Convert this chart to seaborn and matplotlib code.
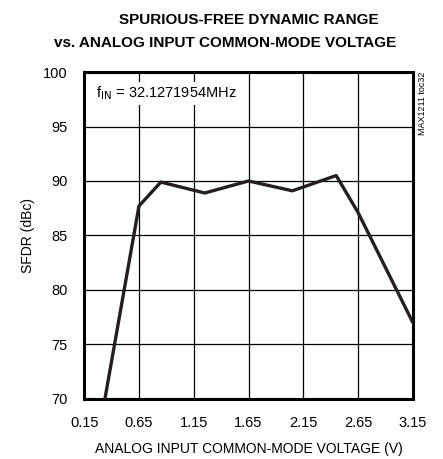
import numpy as np
import pandas as pd
import matplotlib
matplotlib.use('Agg')
import matplotlib.pyplot as plt
import seaborn as sns

# data
vcm = [0.25, 0.65, 0.85, 1.25, 1.65, 2.05, 2.45, 2.65, 3.15]
sfdr = [64.9, 87.7, 89.9, 88.9, 90.0, 89.1, 90.5, 87.1, 77.0]
x_ticks = [0.15, 0.65, 1.15, 1.65, 2.15, 2.65, 3.15]
y_ticks = [70, 75, 80, 85, 90, 95, 100]

df = pd.DataFrame({"vcm": vcm, "sfdr": sfdr})

sns.set_theme(style="white")
plt.rcParams['font.family'] = ['Liberation Sans', 'DejaVu Sans']
plt.rcParams['text.color'] = "black"
plt.rcParams['axes.labelcolor'] = "black"

fig = plt.figure(figsize=(4.43, 4.59), dpi=100)
ax = fig.add_axes([0.19, 0.131, 0.742, 0.712])

sns.lineplot(data=df, x="vcm", y="sfdr", ax=ax, color="#231f20", linewidth=2.4,
             zorder=3, clip_on=True)

ax.set_xlim(0.15, 3.15)
ax.set_ylim(70, 100)
ax.set_xticks(x_ticks)
ax.set_yticks(y_ticks)
ax.set_xticklabels([f"{v:.2f}" for v in x_ticks])
ax.grid(True, color="black", linewidth=0.9)
ax.tick_params(axis="both", labelsize=10.5, length=0, colors="black")
ax.tick_params(axis="x", pad=12)
ax.tick_params(axis="y", pad=12)
for s in ax.spines.values():
    s.set_linewidth(2.2)
    s.set_color("black")

ax.set_xlabel("ANALOG INPUT COMMON-MODE VOLTAGE (V)", fontsize=10, labelpad=9)
ax.set_ylabel("SFDR (dBc)", fontsize=10, labelpad=6)

# two title lines, each centred where the reference puts it
fig.text(0.562, 0.956, "SPURIOUS-FREE DYNAMIC RANGE", fontsize=11,
         fontweight="bold", ha="center", va="center")
fig.text(0.508, 0.906, "vs. ANALOG INPUT COMMON-MODE VOLTAGE", fontsize=11,
         fontweight="bold", ha="center", va="center")

ax.text(0.036, 0.935, r"f$_{\mathrm{IN}}$ = 32.1271954MHz", transform=ax.transAxes,
        fontsize=10.5, va="center", ha="left", zorder=4,
        bbox=dict(facecolor="white", edgecolor="none", pad=2))

fig.text(0.953, 0.843, "MAX1211 toc32", rotation=90, fontsize=6.5,
         va="top", ha="center")

plt.savefig("out.png", dpi=100, facecolor="white")
